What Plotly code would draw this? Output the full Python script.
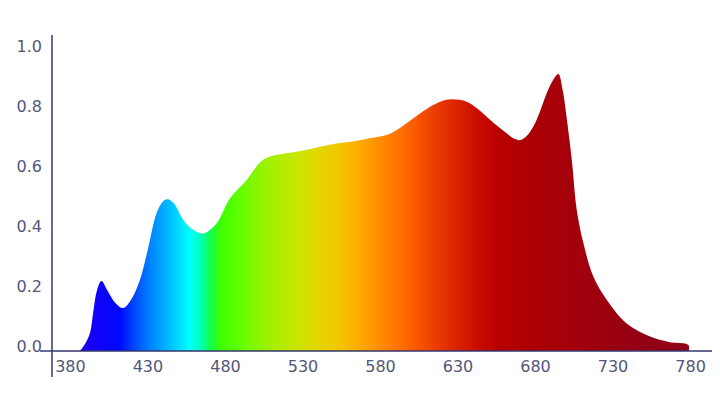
import plotly.graph_objects as go

# Spectrum data (wavelength in nm, relative intensity)
wavelength = [386, 389, 392.6, 394.7, 397, 400, 404, 409, 414, 419, 424.8, 430, 435.6, 440, 443, 447,
              452.8, 459, 465.7, 474.3, 482.9, 493.7, 502, 508.7, 519.5, 530, 541, 551.7, 562, 573, 584,
              590, 597, 605, 612, 619, 626, 635.6, 642, 648.5, 655, 661.4, 666, 670, 674, 678.6, 683,
              687.2, 691, 694.7, 697.5, 700, 703.4, 706.6, 710.9, 717.3, 726, 738.8, 753.9, 766, 778.6, 778.8]
intensity = [0.0, 0.02, 0.06, 0.13, 0.20, 0.233, 0.20, 0.16, 0.143, 0.17, 0.237, 0.34, 0.46, 0.50, 0.506, 0.49,
             0.437, 0.405, 0.392, 0.426, 0.509, 0.57, 0.627, 0.648, 0.659, 0.668, 0.681, 0.692, 0.698, 0.709, 0.72,
             0.735, 0.76, 0.79, 0.814, 0.832, 0.839, 0.831, 0.81, 0.781, 0.752, 0.726, 0.708, 0.703, 0.715, 0.748, 0.80,
             0.859, 0.90, 0.923, 0.87, 0.781, 0.637, 0.47, 0.359, 0.248, 0.17, 0.092, 0.048, 0.03, 0.02, 0.0]

x_ticks = [380, 430, 480, 530, 580, 630, 680, 730, 780]
x_tick_labels = ["380", "430", "480", "530", "580", "630", "680", "730", "780"]
y_ticks = [0.0, 0.2, 0.4, 0.6, 0.8, 1.0]
y_tick_labels = ["0.0", "0.2", "0.4", "0.6", "0.8", "1.0"]

# Spectral colour stops (nm -> colour)
grad_nm = [380, 392, 412, 420, 431, 441, 451, 457, 464, 470, 477, 489, 502, 515, 528, 541, 554, 567,
           583, 593, 605, 618, 631, 644, 657, 683, 709, 735, 760, 780]
grad_colors = ["#2000e8", "#1800f4", "#0008ff", "#0040ff", "#0080ff", "#00b0ff", "#00e0ff", "#00ffff",
               "#00ffb8", "#10ff50", "#40ff00", "#60ff00", "#90f400", "#b0ec00", "#cce400", "#e4d400",
               "#f4c400", "#ffaa00", "#ff8400", "#ff7000", "#f85200", "#e83800", "#d82000", "#c80a00",
               "#b80000", "#aa0006", "#a2000c", "#980012", "#900016", "#900016"]

g0, g1 = grad_nm[0], grad_nm[-1]
colorscale = [[(n - g0) / (g1 - g0), c] for n, c in zip(grad_nm, grad_colors)]

fig = go.Figure()
fig.add_trace(go.Scatter(
    x=wavelength, y=intensity, mode="lines",
    line=dict(width=0, shape="spline", smoothing=1.0),
    fill="tozeroy",
    fillgradient=dict(type="horizontal", colorscale=colorscale, start=g0, stop=g1),
    hoverinfo="skip", showlegend=False,
))

axis_color = "#34376e"
font = dict(family="DejaVu Sans", size=16, color="#54567a")

# page body has an 8px margin, so the figure is sized and offset to compensate
fig.update_layout(
    width=712, height=393,
    margin=dict(l=44, r=0, t=27, b=50),
    paper_bgcolor="white", plot_bgcolor="white",
    xaxis=dict(range=[368.1, 799], tickvals=x_ticks, ticktext=x_tick_labels, showgrid=False,
               zeroline=False, showline=False, ticks="", tickfont=font, ticklabelstandoff=4),
    yaxis=dict(range=[0, 1.0533], tickvals=y_ticks, ticktext=y_tick_labels, showgrid=False,
               zeroline=False, showline=False, ticks="", tickfont=font, ticklabelstandoff=9,
               ticklabelshift=-5),
    shapes=[
        dict(type="line", xref="paper", yref="paper", x0=0, x1=0, y0=-0.0823, y1=1.0,
             line=dict(color=axis_color, width=1.5), layer="above"),
        dict(type="line", xref="paper", yref="paper", x0=-0.018, x1=1.0, y0=0, y1=0,
             line=dict(color=axis_color, width=1.5), layer="above"),
    ],
)

fig.write_html("out.html")
